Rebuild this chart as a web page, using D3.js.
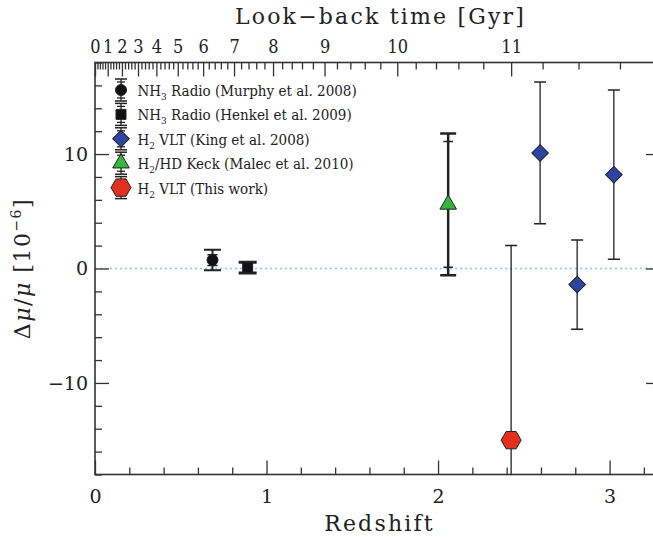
<html>
<head>
<title>mu variation</title>
<style>
	body { margin:0; padding:0; background:#fff; }
	svg text { font-family:"DejaVu Serif", serif; fill:#222; }
	.tick line { stroke:#333; stroke-width:1.3; }
	.domain { display:none; }
	.cond { font-family:"DejaVu Serif Condensed", "DejaVu Serif", serif; font-stretch:condensed; }
</style>
</head>
<body>
<svg width="653" height="537"></svg>
<script src="https://d3js.org/d3.v7.min.js"></script>
<script>

// data (delta mu / mu in units of 1e-6)
var murphyZ = [0.685], murphyDmu = [0.74], murphyErr = [0.89], murphyStat = [0.47];
var henkelZ = [0.89], henkelDmu = [0.08], henkelErr = [0.47];
var malecZ = [2.059], malecDmu = [5.6], malecErr = [6.2], malecStat = [5.5];
var kingZ = [2.595, 2.811, 3.025], kingDmu = [10.1, -1.4, 8.2], kingErr = [6.2, 3.9, 7.4];
var thisZ = [2.426], thisDmu = [-15.0], thisErr = [17.0];

var zTicks = [0, 1, 2, 3];
var yTicks = [-10, 0, 10];
var lookbackTicks = [0, 1, 2, 3, 4, 5, 6, 7, 8, 9, 10, 11];

var legendLabels = [
	["NH", "3", " Radio (Murphy et al. 2008)"],
	["NH", "3", " Radio (Henkel et al. 2009)"],
	["H", "2", " VLT (King et al. 2008)"],
	["H", "2", "/HD Keck (Malec et al. 2010)"],
	["H", "2", " VLT (This work)"]
];

// cosmology used for the look-back time axis
var H0 = 68.8, OmegaM = 0.3;

function ageAt(z) {
	var tH = 977.8 / H0, oL = 1 - OmegaM;
	return 2 * tH / (3 * Math.sqrt(oL)) * Math.asinh(Math.sqrt(oL / OmegaM) * Math.pow(1 + z, -1.5));
}
function zAtLookback(t) {
	var target = ageAt(0) - t, lo = 0, hi = 30;
	for (var i = 0; i < 60; i++) {
		var mid = (lo + hi) / 2;
		if (ageAt(mid) > target) lo = mid; else hi = mid;
	}
	return (lo + hi) / 2;
}

var mL = 95, mR = 660, mT = 62.5, mB = 474.5;
var x = d3.scaleLinear().domain([0, 3.294]).range([mL, mR]);
var y = d3.scaleLinear().domain([-18, 18]).range([mB, mT]);

var svg = d3.select("svg");

svg.append("clipPath").attr("id", "plot")
	.append("rect").attr("x", mL).attr("y", mT).attr("width", mR - mL).attr("height", mB - mT);

// zero line
svg.append("line")
	.attr("x1", mL).attr("x2", mR)
	.attr("y1", y(0)).attr("y2", y(0))
	.style("stroke", "#79d4d8").style("stroke-width", 1.3).style("stroke-dasharray", "2,3");

// axes
var zMinor = d3.range(0, 3.3, 0.2).filter(function(d){ return Math.abs(d - Math.round(d)) > 0.01; });
var yMinor = d3.range(-18, 19, 2).filter(function(d){ return d % 10 != 0; });

svg.append("g").attr("transform", "translate(0," + mB + ")")
	.call(d3.axisBottom(x).tickValues(zTicks).tickFormat(d3.format("d")).tickSizeInner(-14).tickSizeOuter(0).tickPadding(15))
	.selectAll("text").style("font-size", "19px");
svg.append("g").attr("transform", "translate(0," + mB + ")")
	.call(d3.axisBottom(x).tickValues(zMinor).tickFormat("").tickSizeInner(-7).tickSizeOuter(0));

svg.append("g").attr("transform", "translate(" + mL + ",0)")
	.call(d3.axisLeft(y).tickValues(yTicks).tickFormat(function(d){ return d < 0 ? "\u2212" + (-d) : d; }).tickSizeInner(-14).tickSizeOuter(0).tickPadding(7))
	.selectAll("text").style("font-size", "19px");
svg.append("g").attr("transform", "translate(" + mL + ",0)")
	.call(d3.axisLeft(y).tickValues(yMinor).tickFormat("").tickSizeInner(-7).tickSizeOuter(0));

svg.append("g").attr("transform", "translate(" + mR + ",0)")
	.call(d3.axisRight(y).tickValues(yTicks).tickFormat("").tickSizeInner(-14).tickSizeOuter(0));
svg.append("g").attr("transform", "translate(" + mR + ",0)")
	.call(d3.axisRight(y).tickValues(yMinor).tickFormat("").tickSizeInner(-7).tickSizeOuter(0));

var lbMajor = lookbackTicks.map(zAtLookback);
var lbMinor = d3.range(0, 12, 0.2)
	.filter(function(d){ return Math.abs(d - Math.round(d)) > 0.01; })
	.map(zAtLookback)
	.filter(function(z){ return z < 3.29; });

svg.append("g").attr("transform", "translate(0," + mT + ")")
	.call(d3.axisTop(x).tickValues(lbMajor).tickFormat(function(d, i){ return lookbackTicks[i]; }).tickSizeInner(-14).tickSizeOuter(0).tickPadding(9.5))
	.selectAll("text").attr("class", "cond").style("font-size", "18px");
svg.append("g").attr("transform", "translate(0," + mT + ")")
	.call(d3.axisTop(x).tickValues(lbMinor).tickFormat("").tickSizeInner(-7).tickSizeOuter(0));

// frame
svg.append("rect")
	.attr("x", mL).attr("y", mT).attr("width", mR - mL).attr("height", mB - mT)
	.style("fill", "none").style("stroke", "#333").style("stroke-width", 1.6);

// titles
svg.append("text").attr("x", (mL + mR) / 2 + 3).attr("y", 24)
	.attr("text-anchor", "middle").style("font-size", "22px").style("letter-spacing", "2.2px")
	.text("Look\u2212back time [Gyr]");
svg.append("text").attr("x", (mL + mR) / 2 + 2).attr("y", 531)
	.attr("text-anchor", "middle").style("font-size", "22px").style("letter-spacing", "2.2px")
	.text("Redshift");

var ylab = svg.append("text")
	.attr("transform", "translate(30," + ((mT + mB) / 2) + ") rotate(-90)")
	.attr("text-anchor", "middle").style("font-size", "22px").style("letter-spacing", "1.5px");
ylab.append("tspan").text("\u0394");
ylab.append("tspan").style("font-style", "italic").text("\u03bc");
ylab.append("tspan").text("/");
ylab.append("tspan").style("font-style", "italic").text("\u03bc");
ylab.append("tspan").text("  [10");
ylab.append("tspan").attr("dy", -9).style("font-size", "14px").text("\u22126");
ylab.append("tspan").attr("dy", 9).text("]");

// marker shapes
function hexPath(r) {
	var pts = d3.range(6).map(function(i){ var a = i * Math.PI / 3; return [r * Math.cos(a), r * Math.sin(a)]; });
	return "M" + pts.join("L") + "Z";
}
var shapes = {
	circle: { d: d3.symbol().type(d3.symbolCircle).size(Math.PI * 5.5 * 5.5)(), fill: "#111", rot: 0 },
	square: { d: d3.symbol().type(d3.symbolSquare).size(100)(), fill: "#111", rot: 0 },
	diamond: { d: d3.symbol().type(d3.symbolSquare).size(138)(), fill: "#2e45a6", rot: 45 },
	triangle: { d: d3.symbol().type(d3.symbolTriangle).size(118)(), fill: "#35b53a", rot: 0 },
	hexagon: { d: hexPath(10), fill: "#e2301f", rot: 0 }
};

function drawBar(g, cx, y1, y2, capW, w) {
	g.append("line").attr("x1", cx).attr("x2", cx).attr("y1", y1).attr("y2", y2)
		.style("stroke", "#222").style("stroke-width", w);
	[y1, y2].forEach(function(yy){
		g.append("line").attr("x1", cx - capW / 2).attr("x2", cx + capW / 2).attr("y1", yy).attr("y2", yy)
			.style("stroke", "#222").style("stroke-width", Math.max(w, 1.5));
	});
}
function drawCap(g, cx, yy, capW, w) {
	g.append("line").attr("x1", cx - capW / 2).attr("x2", cx + capW / 2).attr("y1", yy).attr("y2", yy)
		.style("stroke", "#222").style("stroke-width", w);
}
function drawMarker(g, cx, cy, shape) {
	var s = shapes[shape];
	g.append("path").attr("d", s.d)
		.attr("transform", "translate(" + cx + "," + cy + ") rotate(" + s.rot + ")")
		.style("fill", s.fill).style("stroke", "#222").style("stroke-width", 1);
}

var pts = svg.append("g").attr("clip-path", "url(#plot)");

function drawSeries(zs, vals, errs, stats, shape, capW, w) {
	zs.forEach(function(z, i){
		var cx = x(z);
		drawBar(pts, cx, y(vals[i] + errs[i]), y(vals[i] - errs[i]), capW, w);
		if (stats) {
			drawCap(pts, cx, y(vals[i] + stats[i]), capW * 0.6, 1.5);
			drawCap(pts, cx, y(vals[i] - stats[i]), capW * 0.6, 1.5);
		}
		drawMarker(pts, cx, y(vals[i]), shape);
	});
}

drawSeries(murphyZ, murphyDmu, murphyErr, murphyStat, "circle", 17, 2);
drawSeries(henkelZ, henkelDmu, henkelErr, null, "square", 18, 3);
drawSeries(malecZ, malecDmu, malecErr, malecStat, "triangle", 16, 2.5);
drawSeries(kingZ, kingDmu, kingErr, null, "diamond", 12, 1.3);
drawSeries(thisZ, thisDmu, thisErr, null, "hexagon", 12, 1.3);

// legend
var legendShapes = ["circle", "square", "diamond", "triangle", "hexagon"];
var leg = svg.append("g");
legendLabels.forEach(function(lab, i){
	var cy = 90 + i * 24.4, cx = 121;
	drawBar(leg, cx, cy - 11, cy + 11, 12, 1.3);
	drawCap(leg, cx, cy - 8, 8, 1.3);
	drawCap(leg, cx, cy + 8, 8, 1.3);
	drawMarker(leg, cx, cy, legendShapes[i]);
	var t = leg.append("text").attr("class", "cond").attr("x", 137.5).attr("y", cy + 6).style("font-size", "15px");
	t.append("tspan").text(lab[0]);
	t.append("tspan").attr("dy", 4).style("font-size", "10px").text(lab[1]);
	t.append("tspan").attr("dy", -4).text(lab[2]);
});

</script>
</body>
</html>
